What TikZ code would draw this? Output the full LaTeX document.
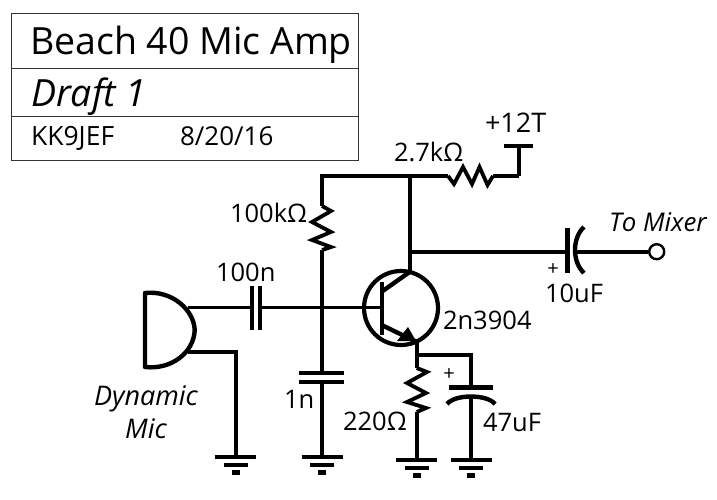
\documentclass[tikz,border=0pt]{standalone}
\usepackage{fontspec}
\setmainfont{Open Sans}
\newcommand{\fsz}[1]{\fontsize{#1}{#1}\selectfont}
\tikzset{
  wire/.style={line width=4.4pt,line join=miter,black},
  thinwire/.style={line width=3.4pt,black},
  plate/.style={line width=4.4pt,black},
  framel/.style={line width=1pt,black!80},
  lbl/.style={anchor=base west,inner sep=0pt,outer sep=0pt,text=black,font=\fsz{25.5}},
  ilbl/.style={lbl,font=\fsz{25.8}\itshape},
  cil/.style={anchor=base,inner sep=0pt,text=black,font=\fsz{27}\itshape},
  pluslbl/.style={anchor=center,inner sep=0pt,text=black,font=\fsz{20}},
  gndbar/.style={line width=4.2pt,black}
}
\newcommand{\gnd}[1]{%
  \draw[gndbar] ([xshift=-20.5pt]#1) -- ([xshift=20.5pt]#1);
  \draw[gndbar] ([xshift=-12pt,yshift=-7.7pt]#1) -- ([xshift=12pt,yshift=-7.7pt]#1);
  \draw[gndbar] ([xshift=-3.8pt,yshift=-15.5pt]#1) -- ([xshift=3.8pt,yshift=-15.5pt]#1);}
\begin{document}
\begin{tikzpicture}[x=1pt,y=-1pt]
\useasboundingbox (0,0) rectangle (717,500);
% title block
\coordinate (tl) at (11.7,13.3); \coordinate (br) at (358.7,160.7);
\coordinate (l1) at (11.7,68.3); \coordinate (r1) at (358.7,68.3);
\coordinate (l2) at (11.7,116.3); \coordinate (r2) at (358.7,116.3);
\draw[framel] (tl) rectangle (br);
\draw[framel] (l1) -- (r1);
\draw[framel] (l2) -- (r2);
\node[lbl,font=\fsz{37.5}] (title) at (30,55) {Beach 40 Mic Amp};
\node[ilbl,font=\fsz{37.5}\itshape] (draft) at (31,106.7) {Draft 1};
\node[lbl,font=\fsz{26.5}] (call) at (31,146) {KK9JEF};
\node[lbl,font=\fsz{26}] (date) at (180,146) {8/20/16};
% junctions
\coordinate (top) at (322,176);
\coordinate (vc) at (410,176);
\coordinate (r2a) at (448,176);
\coordinate (r2b) at (493,176);
\coordinate (rail) at (519,176);
\coordinate (v12) at (519,146);
\coordinate (r1a) at (322,206);
\coordinate (r1b) at (322,250);
\coordinate (c1a) at (322,372.7);
\coordinate (c1b) at (322,381.7);
\coordinate (g2) at (322,457);
\coordinate (g1) at (235.7,457);
\coordinate (m1) at (188,307.7);
\coordinate (m2) at (188,351.7);
\coordinate (m2c) at (235.7,351.7);
\coordinate (c2a) at (251.7,307.7);
\coordinate (c2b) at (260,307.7);
\coordinate (base) at (381.7,307.7);
\coordinate (coll) at (410,271.7);
\coordinate (collb) at (381.7,291.7);
\coordinate (emb) at (381.7,325);
\coordinate (em) at (416.7,342);
\coordinate (ej) at (416.7,355);
\coordinate (ejc) at (471,355);
\coordinate (r3a) at (416.7,368);
\coordinate (r3b) at (416.7,412);
\coordinate (g3) at (416.7,460);
\coordinate (c3a) at (471,387.3);
\coordinate (c3b) at (471,396);
\coordinate (g4) at (471,460);
\coordinate (outj) at (410,251.7);
\coordinate (c4a) at (567.3,251.7);
\coordinate (c4b) at (575,251.7);
% wires
\draw[wire] (rail) -- (r2b) (r2a) -- (top) -- (r1a);
\draw[wire] (rail) -- (v12);
\draw[plate] (504,146) -- (533,146);
\draw[wire] (r1b) -- (c1a);
\draw[wire] (c1b) -- (g2);
\draw[wire] (vc) -- (coll);
\draw[wire] (outj) -- (c4a);
\draw[thinwire] (m1) -- (c2a);
\draw[thinwire] (c2b) -- (base);
\draw[wire] (m2) -- (m2c) -- (g1);
\draw[wire] (em) -- (r3a);
\draw[wire] (r3b) -- (g3);
\draw[wire] (ej) -- (ejc) -- (c3a);
\draw[wire] (c3b) -- (g4);
% resistors
\draw[wire,line width=3.8pt] (r2a) -- (454,184) -- (463,167) -- (472,184) -- (479.5,167) -- (487.5,185) -- (r2b);
\draw[wire,line width=3.8pt] (r1a) -- (331,211) -- (312,222) -- (331,232) -- (312,240) -- (331,247) -- (r1b);
\draw[wire,line width=3.8pt] (r3a) -- (427,372) -- (407,383) -- (426,393) -- (407,402) -- (426,408) -- (r3b);
% capacitors
\draw[plate] (251.7,285.7) -- (251.7,330);
\draw[plate] (260,285.7) -- (260,330);
\draw[plate] (299,372.7) -- (344,372.7);
\draw[plate] (299,381.7) -- (344,381.7);
\draw[plate] (449,387.3) -- (493,387.3);
\draw[plate] (447,404) .. controls (455,394) and (487,394) .. (495,404);
\draw[plate] (567.3,228) -- (567.3,272.7);
\draw[plate] (584,227) .. controls (572,238) and (572,262) .. (584,273);
% output
\node[circle,draw=black,line width=2.4pt,fill=white,minimum size=15pt,inner sep=0pt] (out) at (656.7,251.7) {};
\draw[wire] (c4b) -- (out);
% mic
\draw[line width=4.4pt,black,line join=round] (145,293) -- (145,367) .. controls (172,370) and (194,352) .. (194.7,330) .. controls (194,310) and (172,290) .. (145,293) -- cycle;
% transistor
\node[circle,draw=black,line width=4.2pt,minimum size=74pt,inner sep=0pt] (q) at (401,308) {};
\draw[wire] (381.7,281.7) -- (381.7,335);
\draw[wire] (collb) -- (coll);
\draw[wire] (emb) -- (em);
\fill[black] (416,341) -- (397,341) -- (408,327) -- cycle;
% grounds
\gnd{g1}\gnd{g2}\gnd{g3}\gnd{g4}
% labels
\node[lbl] (lr1) at (230,222.7) {100kΩ};
\node[lbl] (lc2) at (216,281) {100n};
\node[cil] (dyn) at (146,405) {Dynamic};
\node[cil] (mic) at (146,438) {Mic};
\node[lbl] (lc1) at (284,408) {1n};
\node[lbl] (lr3) at (343,430) {220Ω};
\node[lbl] (lc3) at (483,431.7) {47uF};
\node[lbl] (lq) at (443,329) {2n3904};
\node[lbl] (lc4) at (545,302) {10uF};
\node[pluslbl] (p4) at (553,270) {+};
\node[pluslbl] (p3) at (449,375) {+};
\node[lbl,font=\fsz{27}] (v) at (485,132.7) {+12T};
\node[lbl] (lr2) at (394,161.7) {2.7kΩ};
\node[ilbl] (tm) at (609,231.7) {To Mixer};
\end{tikzpicture}
\end{document}
